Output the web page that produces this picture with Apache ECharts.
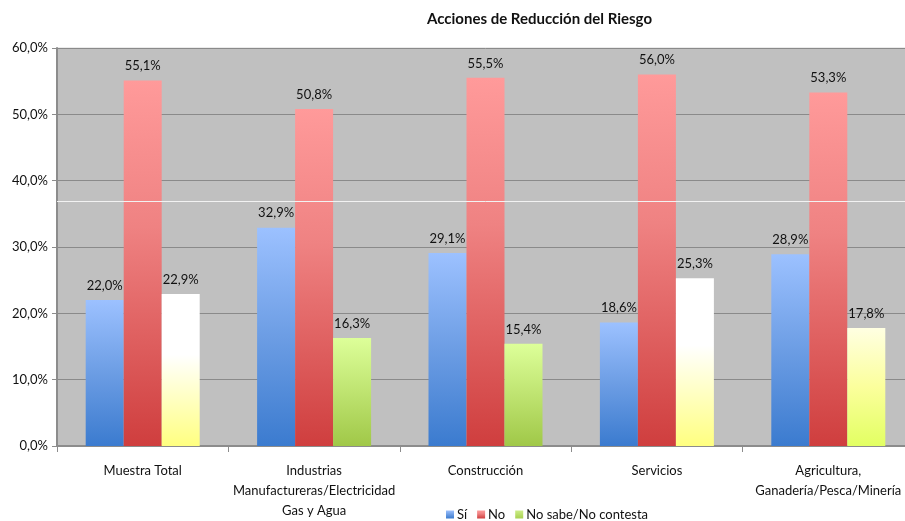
<!DOCTYPE html>
<html><head><meta charset="utf-8">
<script src="https://cdn.jsdelivr.net/npm/echarts@6/dist/echarts.min.js"></script>
<style>html,body{margin:0;padding:0;background:#fff;overflow:hidden}#c{width:915px;height:521px}</style>
</head><body><div id="c"></div>
<script>
const categories = ['Muestra Total', 'Industrias\nManufactureras/Electricidad\nGas y Agua', 'Construcción', 'Servicios', 'Agricultura,\nGanadería/Pesca/Minería'];
const seriesNames = ['Sí', 'No', 'No sabe/No contesta'];
const valuesSi = [22.0, 32.9, 29.1, 18.6, 28.9];
const valuesNo = [55.1, 50.8, 55.5, 56.0, 53.3];
const valuesNs = [22.9, 16.3, 15.4, 25.3, 17.8];
const yTicks = [0, 10, 20, 30, 40, 50, 60];

function grad(stops) {
  return new echarts.graphic.LinearGradient(0, 0, 0, 1, stops.map(s => ({offset: s[0], color: s[1]})));
}
const blueG = () => grad([[0, '#9cc1ff'], [0.5, '#6c9de4'], [1, '#3b7bcf']]);
const redG = () => grad([[0, '#ff9a9a'], [0.4, '#ef8282'], [1, '#cf3e3e']]);
const greenG = () => grad([[0, '#ddff99'], [1, '#a0c848']]);
const yellowWG = () => grad([[0, '#ffffff'], [0.4, '#ffffff'], [1, '#ffff80']]);
const yellowLG = () => grad([[0, '#ffffe2'], [0.5, '#fbff9c'], [1, '#e2ff62']]);
const nsStyles = [yellowWG, greenG, greenG, yellowWG, yellowLG];

const fmt = v => v.toFixed(1).replace('.', ',') + '%';
const FONT = 'Lato';
const labelCfg = {show: true, position: 'top', distance: 8, color: '#111', fontSize: 13, fontFamily: FONT,
  formatter: p => fmt(p.value)};

const chart = echarts.init(document.getElementById('c'), null, {renderer: 'canvas'});
chart.setOption({
  animation: false,
  backgroundColor: '#ffffff',
  title: {text: 'Acciones de Reducción del Riesgo', left: 422, top: 7,
    textStyle: {fontFamily: FONT, fontWeight: 'bold', fontSize: 15, color: '#111'}},
  legend: {top: 503, left: 441, itemWidth: 8, itemHeight: 8, itemGap: 10, icon: 'rect',
    textStyle: {fontFamily: FONT, fontSize: 13, color: '#111', padding: [0, 0, 0, -2]},
    data: seriesNames},
  grid: {left: 57, right: 1, top: 48, bottom: 74, show: true, backgroundColor: '#c0c0c0',
    borderColor: '#d6d6d6', borderWidth: 1},
  xAxis: {type: 'category', data: categories,
    axisLine: {lineStyle: {color: '#8c8c8c', width: 2}},
    axisTick: {show: true, length: 6, lineStyle: {color: '#8c8c8c'}},
    axisLabel: {fontFamily: FONT, fontSize: 13, color: '#111', margin: 15, lineHeight: 20, interval: 0}},
  yAxis: {type: 'value', min: yTicks[0], max: yTicks[yTicks.length - 1], interval: 10,
    axisLine: {show: true, lineStyle: {color: '#8c8c8c', width: 2}},
    axisTick: {show: true, length: 5, lineStyle: {color: '#8c8c8c'}},
    splitLine: {lineStyle: {color: '#8a8a8a', width: 1}},
    axisLabel: {fontFamily: FONT, fontSize: 13, color: '#111', margin: 9, formatter: v => v.toFixed(1).replace('.', ',') + '%'}},
  series: [
    {type: 'line', data: [], silent: true, z: 1,
      markLine: {silent: true, symbol: 'none', label: {show: false},
        lineStyle: {color: '#f2f2f2', type: 'solid', width: 1}, data: [{yAxis: 36.9}]}},
    {name: seriesNames[0], type: 'bar', z: 3, barWidth: 38, barGap: '0%', data: valuesSi,
      itemStyle: {color: blueG()}, label: labelCfg},
    {name: seriesNames[1], type: 'bar', z: 3, barWidth: 38, barGap: '0%', data: valuesNo,
      itemStyle: {color: redG()}, label: labelCfg},
    {name: seriesNames[2], type: 'bar', z: 3, barWidth: 38, barGap: '0%',
      data: valuesNs.map((v, i) => ({value: v, itemStyle: {color: nsStyles[i]()}})),
      itemStyle: {color: grad([[0, '#ccee88'], [1, '#a8d050']])}, label: labelCfg}
  ]
});
</script>
</body></html>
